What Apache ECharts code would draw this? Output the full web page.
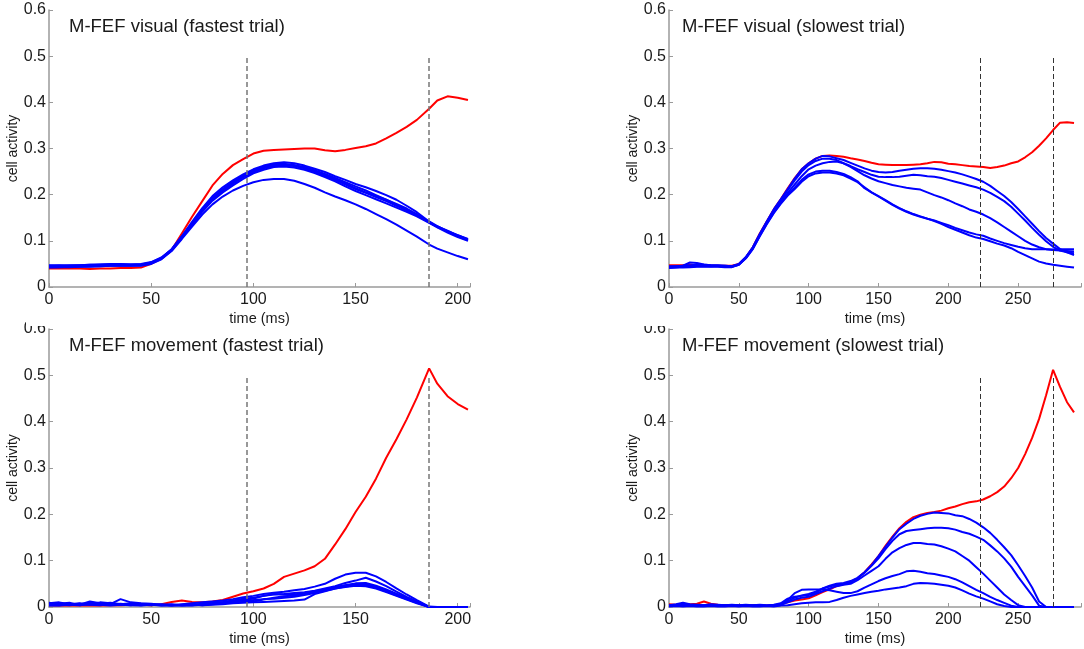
<!DOCTYPE html>
<html>
<head>
<meta charset="utf-8">
<script src="https://cdn.jsdelivr.net/npm/echarts@6/dist/echarts.min.js"></script>
<style>
  html, body { margin: 0; padding: 0; background: #fff; }
  #chart { width: 1084px; height: 649px; }
</style>
</head>
<body>
<div id="chart"></div>
<script>
// time axes (ms)
const tFast = [0,5,10,15,20,25,30,35,40,45,50,55,60,65,70,75,80,85,90,95,100,105,110,115,120,125,130,135,140,145,150,155,160,165,170,175,180,186,190,195,200,205];
const tSlow = [0,5,10,15,20,25,30,35,40,45,50,55,60,65,70,75,80,85,90,95,100,105,110,115,120,125,130,135,140,145,150,155,160,165,170,175,180,185,190,195,200,205,210,215,220,225,230,235,240,245,250,255,260,265,270,275,280,285,290];

// dashed event markers
const fastMarks = [97, 186];
const slowMarks = [223, 275];

const titles = ['M-FEF visual (fastest trial)', 'M-FEF visual (slowest trial)', 'M-FEF movement (fastest trial)', 'M-FEF movement (slowest trial)'];

// --- M-FEF visual, fastest trial
const visFastRed = [0.040,0.040,0.040,0.040,0.039,0.040,0.040,0.041,0.041,0.042, 0.050,0.062,0.080,0.116,0.152,0.186,0.220,0.245,0.264,0.277, 0.289,0.295,0.297,0.298,0.299,0.300,0.300,0.296,0.294,0.297, 0.301,0.305,0.311,0.322,0.334,0.347,0.362, 0.386,0.404,0.413,0.410,0.405];
const visFastB1 = [0.045,0.046,0.046,0.047,0.048,0.049,0.050,0.050,0.049,0.049, 0.053,0.063,0.082,0.110,0.141,0.171,0.197,0.216,0.231,0.244, 0.255,0.263,0.268,0.270,0.268,0.263,0.256,0.249,0.240,0.232, 0.223,0.216,0.208,0.199,0.189,0.176,0.162, 0.142,0.132,0.120,0.110,0.101];
const visFastB2 = [0.042,0.043,0.043,0.044,0.044,0.045,0.046,0.046,0.046,0.047, 0.052,0.062,0.081,0.108,0.138,0.167,0.192,0.210,0.225,0.238, 0.249,0.257,0.263,0.265,0.264,0.260,0.253,0.245,0.236,0.227, 0.218,0.209,0.199,0.189,0.178,0.167,0.155, 0.140,0.131,0.121,0.112,0.104];
const visFastB3 = [0.047,0.047,0.046,0.046,0.047,0.048,0.048,0.049,0.048,0.048, 0.052,0.062,0.080,0.107,0.137,0.165,0.190,0.208,0.224,0.239, 0.252,0.260,0.266,0.267,0.264,0.258,0.250,0.241,0.232,0.222, 0.212,0.204,0.195,0.186,0.176,0.166,0.156, 0.141,0.130,0.120,0.111,0.102];
const visFastB4 = [0.044,0.044,0.045,0.045,0.045,0.046,0.047,0.047,0.047,0.047, 0.051,0.061,0.079,0.106,0.135,0.163,0.187,0.205,0.220,0.234, 0.246,0.254,0.260,0.261,0.259,0.254,0.247,0.238,0.229,0.218, 0.208,0.199,0.190,0.181,0.172,0.163,0.153, 0.139,0.129,0.118,0.108,0.100];
const visFastB5 = [0.046,0.046,0.047,0.047,0.048,0.048,0.049,0.049,0.049,0.050, 0.054,0.064,0.081,0.109,0.139,0.168,0.193,0.212,0.228,0.241, 0.253,0.259,0.262,0.263,0.262,0.257,0.250,0.242,0.234,0.224, 0.214,0.205,0.197,0.189,0.180,0.170,0.158, 0.140,0.131,0.122,0.112,0.103];
const visFastB6 = [0.043,0.043,0.044,0.044,0.045,0.045,0.046,0.046,0.046,0.046, 0.050,0.060,0.078,0.104,0.131,0.157,0.179,0.196,0.209,0.219, 0.227,0.232,0.234,0.234,0.230,0.223,0.215,0.205,0.196,0.188, 0.179,0.169,0.158,0.147,0.135,0.122,0.109, 0.092,0.083,0.075,0.067,0.060];

// --- M-FEF visual, slowest trial
const visSlowRed = [0.047,0.047,0.047,0.048,0.047,0.046,0.046,0.046,0.046,0.046, 0.050,0.064,0.086,0.116,0.142,0.168,0.190,0.214,0.236,0.255, 0.268,0.278,0.284,0.285,0.284,0.282,0.279,0.276,0.273,0.269, 0.266,0.265,0.264,0.264,0.264,0.265,0.266,0.268,0.271,0.270, 0.267,0.266,0.264,0.262,0.261,0.260,0.258,0.260,0.263,0.268, 0.272,0.281,0.292,0.306,0.322,0.340,0.356,0.357,0.355];
const visSlowB1 = [0.044,0.045,0.046,0.053,0.052,0.049,0.047,0.046,0.046,0.045, 0.050,0.065,0.086,0.115,0.142,0.168,0.190,0.212,0.235,0.255, 0.268,0.278,0.284,0.283,0.279,0.275,0.269,0.263,0.257,0.252, 0.249,0.248,0.249,0.252,0.254,0.256,0.257,0.257,0.256,0.254, 0.251,0.248,0.244,0.239,0.234,0.228,0.219,0.208,0.197,0.184, 0.169,0.153,0.137,0.121,0.106,0.094,0.082,0.075,0.069];
const visSlowB2 = [0.042,0.043,0.044,0.045,0.046,0.046,0.045,0.045,0.044,0.044, 0.049,0.064,0.085,0.114,0.141,0.166,0.188,0.210,0.231,0.250, 0.264,0.273,0.278,0.278,0.275,0.268,0.262,0.255,0.249,0.243, 0.239,0.238,0.238,0.239,0.241,0.243,0.242,0.240,0.239,0.236, 0.232,0.228,0.224,0.220,0.216,0.211,0.204,0.195,0.186,0.174, 0.159,0.144,0.128,0.113,0.099,0.087,0.079,0.075,0.073];
const visSlowB3 = [0.045,0.045,0.046,0.047,0.048,0.048,0.047,0.047,0.046,0.045, 0.049,0.063,0.084,0.112,0.139,0.164,0.185,0.204,0.222,0.240, 0.255,0.263,0.268,0.271,0.272,0.268,0.260,0.251,0.242,0.235, 0.229,0.225,0.221,0.218,0.215,0.213,0.211,0.205,0.199,0.194, 0.188,0.181,0.175,0.168,0.163,0.157,0.149,0.140,0.130,0.120, 0.110,0.100,0.092,0.086,0.082,0.080,0.079,0.078,0.077];
const visSlowB4 = [0.041,0.042,0.042,0.043,0.044,0.044,0.044,0.044,0.043,0.043, 0.048,0.062,0.083,0.111,0.137,0.161,0.182,0.200,0.215,0.232, 0.244,0.250,0.252,0.252,0.249,0.245,0.238,0.229,0.214,0.205, 0.197,0.188,0.179,0.171,0.164,0.158,0.153,0.148,0.144,0.139, 0.134,0.128,0.123,0.118,0.114,0.111,0.105,0.100,0.095,0.091, 0.087,0.084,0.082,0.082,0.082,0.081,0.082,0.082,0.082];
const visSlowB5 = [0.043,0.043,0.044,0.044,0.045,0.045,0.045,0.046,0.045,0.044, 0.048,0.062,0.082,0.110,0.136,0.160,0.180,0.198,0.212,0.228, 0.240,0.246,0.248,0.248,0.246,0.242,0.235,0.227,0.216,0.205, 0.196,0.187,0.178,0.170,0.163,0.157,0.152,0.148,0.143,0.137, 0.130,0.124,0.118,0.112,0.107,0.104,0.099,0.094,0.090,0.084, 0.076,0.069,0.062,0.055,0.051,0.048,0.046,0.044,0.042];

// --- M-FEF movement, fastest trial
const movFastRed = [0.004,0.003,0.004,0.003,0.004,0.003,0.004,0.004,0.005,0.005, 0.004,0.006,0.011,0.014,0.011,0.010,0.012,0.015,0.022,0.029, 0.034,0.040,0.050,0.065,0.072,0.079,0.088,0.104,0.135,0.168, 0.205,0.238,0.277,0.322,0.362,0.405,0.452, 0.515,0.482,0.455,0.438,0.426];
const movFastB1 = [0.008,0.010,0.006,0.005,0.012,0.008,0.006,0.017,0.010,0.008, 0.007,0.005,0.004,0.006,0.008,0.010,0.012,0.014,0.017,0.021, 0.024,0.028,0.031,0.033,0.036,0.039,0.044,0.050,0.061,0.070, 0.074,0.074,0.066,0.054,0.040,0.027,0.015, 0.001,0,0,0,0];
const movFastB2 = [0.005,0.007,0.009,0.004,0.006,0.010,0.008,0.005,0.006,0.004, 0.006,0.004,0.005,0.003,0.004,0.006,0.009,0.011,0.014,0.018, 0.020,0.024,0.027,0.028,0.030,0.032,0.035,0.040,0.045,0.052, 0.057,0.063,0.055,0.045,0.033,0.022,0.012, 0,0,0,0,0];
const movFastB3 = [0.003,0.004,0.006,0.008,0.005,0.004,0.006,0.007,0.005,0.006, 0.005,0.003,0.004,0.004,0.003,0.005,0.008,0.010,0.013,0.016, 0.018,0.024,0.028,0.027,0.027,0.030,0.034,0.038,0.042,0.047, 0.051,0.052,0.046,0.038,0.029,0.020,0.011, 0,0,0,0,0];
const movFastB4 = [0.006,0.005,0.004,0.006,0.009,0.006,0.005,0.006,0.008,0.005, 0.004,0.006,0.003,0.005,0.006,0.004,0.006,0.008,0.010,0.011, 0.012,0.016,0.020,0.023,0.025,0.028,0.032,0.037,0.043,0.047, 0.049,0.050,0.044,0.036,0.027,0.018,0.010, 0,0,0,0,0];
const movFastB5 = [0.009,0.006,0.005,0.007,0.005,0.007,0.009,0.006,0.004,0.007, 0.006,0.005,0.006,0.004,0.005,0.007,0.007,0.009,0.012,0.014, 0.015,0.017,0.018,0.020,0.022,0.026,0.030,0.035,0.040,0.044, 0.047,0.048,0.042,0.034,0.025,0.017,0.009, 0,0,0,0,0];
const movFastB6 = [0.004,0.003,0.005,0.004,0.007,0.005,0.003,0.005,0.004,0.003, 0.005,0.004,0.003,0.004,0.005,0.004,0.005,0.006,0.008,0.009, 0.010,0.011,0.012,0.013,0.014,0.016,0.028,0.034,0.040,0.043, 0.046,0.045,0.040,0.032,0.024,0.016,0.008, 0,0,0,0,0];

// --- M-FEF movement, slowest trial
const movSlowRed = [0.006,0.005,0.006,0.006,0.007,0.012,0.007,0.005,0.004,0.004, 0.004,0.004,0.004,0.003,0.003,0.003,0.006,0.010,0.014,0.016, 0.019,0.025,0.032,0.038,0.045,0.049,0.054,0.062,0.075,0.092, 0.110,0.132,0.152,0.170,0.184,0.194,0.199,0.203,0.205,0.208, 0.213,0.217,0.222,0.226,0.228,0.232,0.239,0.248,0.260,0.278, 0.300,0.330,0.365,0.406,0.457,0.512,0.475,0.442,0.420];
const movSlowB1 = [0.004,0.006,0.009,0.006,0.005,0.004,0.006,0.005,0.004,0.005, 0.004,0.005,0.004,0.005,0.004,0.005,0.008,0.018,0.022,0.024, 0.026,0.030,0.040,0.046,0.050,0.052,0.056,0.063,0.075,0.090, 0.110,0.130,0.150,0.168,0.180,0.190,0.197,0.201,0.204,0.203, 0.202,0.198,0.196,0.190,0.182,0.172,0.160,0.145,0.129,0.112, 0.090,0.067,0.042,0.012,0,0,0,0,0];
const movSlowB2 = [0.002,0.003,0.005,0.004,0.003,0.003,0.002,0.003,0.004,0.003, 0.003,0.002,0.003,0.004,0.003,0.004,0.006,0.012,0.020,0.025, 0.028,0.033,0.040,0.044,0.048,0.050,0.053,0.062,0.074,0.089, 0.105,0.125,0.143,0.157,0.164,0.166,0.168,0.170,0.171,0.171, 0.170,0.167,0.162,0.158,0.152,0.145,0.133,0.120,0.105,0.087, 0.065,0.045,0.025,0.003,0,0,0,0,0];
const movSlowB3 = [0.003,0.004,0.003,0.002,0.003,0.004,0.003,0.002,0.003,0.002, 0.003,0.004,0.002,0.003,0.002,0.003,0.005,0.010,0.016,0.020, 0.022,0.028,0.034,0.040,0.045,0.048,0.050,0.058,0.068,0.078, 0.088,0.104,0.118,0.127,0.134,0.138,0.138,0.136,0.135,0.131, 0.126,0.120,0.110,0.100,0.086,0.072,0.057,0.042,0.027,0.015, 0.004,0,0,0,0,0,0,0,0];
const movSlowB4 = [0.002,0.002,0.003,0.002,0.002,0.003,0.002,0.002,0.002,0.003, 0.002,0.002,0.003,0.002,0.002,0.002,0.004,0.015,0.030,0.037, 0.038,0.038,0.038,0.036,0.033,0.030,0.030,0.034,0.042,0.049, 0.056,0.062,0.067,0.071,0.077,0.078,0.076,0.073,0.071,0.068, 0.065,0.060,0.053,0.045,0.037,0.030,0.022,0.015,0.009,0.003, 0,0,0,0,0,0,0,0,0];
const movSlowB5 = [0.001,0.002,0.001,0.002,0.001,0.001,0.002,0.001,0.001,0.002, 0.001,0.002,0.001,0.001,0.002,0.001,0.003,0.004,0.006,0.008, 0.009,0.010,0.010,0.011,0.015,0.020,0.024,0.027,0.030,0.033, 0.035,0.038,0.040,0.042,0.045,0.050,0.052,0.051,0.050,0.048, 0.046,0.042,0.036,0.029,0.023,0.018,0.012,0.006,0.002,0, 0,0,0,0,0,0,0,0,0];

const FONT = 'Liberation Sans, Arial, sans-serif';
const TEXT = '#1a1a1a';
const AXIS = '#9a9a9a';

const panels = [
  { grid: { left: 49, top: 10, width: 421, height: 277 }, xMax: 206, t: tFast, red: visFastRed,
    blues: [visFastB1, visFastB2, visFastB3, visFastB4, visFastB5, visFastB6], marks: fastMarks, dash: '#777', titlePos: [69, 17] },
  { grid: { left: 669, top: 10, width: 421, height: 277 }, xMax: 295, t: tSlow, red: visSlowRed,
    blues: [visSlowB1, visSlowB2, visSlowB3, visSlowB4, visSlowB5], marks: slowMarks, dash: '#333', titlePos: [682, 17] },
  { grid: { left: 49, top: 329, width: 421, height: 278 }, xMax: 206, t: tFast, red: movFastRed,
    blues: [movFastB1, movFastB2, movFastB3, movFastB4, movFastB5, movFastB6], marks: fastMarks, dash: '#777', titlePos: [69, 336] },
  { grid: { left: 669, top: 329, width: 421, height: 278 }, xMax: 295, t: tSlow, red: movSlowRed,
    blues: [movSlowB1, movSlowB2, movSlowB3, movSlowB4, movSlowB5], marks: slowMarks, dash: '#333', titlePos: [682, 336] }
];

const zip = (t, v) => t.map((x, i) => [x, v[i]]);

const series = [];
panels.forEach((p, i) => {
  series.push({
    type: 'line', xAxisIndex: i, yAxisIndex: i,
    data: zip(p.t, p.red),
    symbol: 'none',
    lineStyle: { color: '#ff0000', width: 2 },
    z: 2,
    markLine: {
      symbol: 'none', silent: true, animation: false,
      label: { show: false },
      lineStyle: { color: p.dash, type: [5, 3], width: i % 2 ? 1 : 1.5 },
      data: p.marks.map(m => [{ coord: [m, 0] }, { coord: [m, 0.5] }])
    }
  });
  p.blues.forEach(b => {
    series.push({
      type: 'line', xAxisIndex: i, yAxisIndex: i,
      data: zip(p.t, b),
      symbol: 'none',
      lineStyle: { color: '#0000ff', width: 2 },
      z: 3
    });
  });
});

const chart = echarts.init(document.getElementById('chart'));
chart.setOption({
  animation: false,
  backgroundColor: '#fff',
  textStyle: { fontFamily: FONT },
  title: panels.map((p, i) => ({
    text: titles[i], left: p.titlePos[0], top: p.titlePos[1], padding: 0,
    textStyle: { fontSize: 18.5, fontWeight: 'normal', color: TEXT, fontFamily: FONT }
  })),
  grid: panels.map(p => p.grid),
  xAxis: panels.map((p, i) => ({
    gridIndex: i, type: 'value', min: 0, max: p.xMax, interval: 50,
    axisLine: { lineStyle: { color: AXIS, width: 1.5 } },
    axisTick: { inside: true, length: 4, lineStyle: { color: AXIS } },
    splitLine: { show: false },
    axisLabel: { color: TEXT, fontSize: 16, margin: 5, fontFamily: FONT,
      formatter: v => (v % 50 === 0 ? String(v) : '') },
    name: 'time (ms)', nameLocation: 'middle', nameGap: 24,
    nameTextStyle: { fontSize: 14.5, color: TEXT, fontFamily: FONT }
  })),
  yAxis: panels.map((p, i) => ({
    gridIndex: i, type: 'value', min: 0, max: 0.6, interval: 0.1,
    axisLine: { show: true, lineStyle: { color: AXIS, width: 1.5 } },
    axisTick: { show: true, inside: true, length: 4, lineStyle: { color: AXIS } },
    splitLine: { show: false },
    axisLabel: { color: TEXT, fontSize: 16, margin: 3, fontFamily: FONT },
    name: 'cell activity', nameLocation: 'middle', nameRotate: 90, nameGap: 20,
    nameTextStyle: { fontSize: 14, color: TEXT, fontFamily: FONT }
  })),
  graphic: [
    // top edge of the lower panels is cut off in the source figure
    { type: 'rect', z: 100, shape: { x: 26, y: 320, width: 24, height: 6 }, style: { fill: '#fff' } },
    { type: 'rect', z: 100, shape: { x: 638, y: 320, width: 30, height: 6 }, style: { fill: '#fff' } }
  ],
  series
});
</script>
</body>
</html>
